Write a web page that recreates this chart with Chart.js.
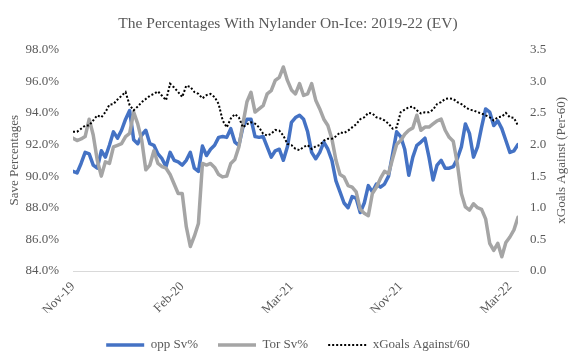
<!DOCTYPE html>
<html>
<head>
<meta charset="utf-8">
<script src="https://cdn.jsdelivr.net/npm/chart.js@4.4.1/dist/chart.umd.min.js"></script>
<style>
  html, body { margin: 0; padding: 0; background: #ffffff; }
  #wrap { width: 576px; height: 356px; position: relative; }
</style>
</head>
<body>
<div id="wrap"><canvas id="c"></canvas></div>
<script>
// ---- data (one value per game window) ----
const oppSv = [
  90.3, 90.2, 90.8, 91.5, 91.4, 90.7, 90.5, 91.6, 91.2, 91.95,
  92.8, 92.4, 92.9, 93.6, 94.15, 92.3, 92.05, 92.6, 92.9, 92.05,
  91.95, 91.4, 91.1, 90.6, 91.5, 91.0, 90.9, 90.7, 91.0, 91.5,
  90.5, 90.3, 91.9, 91.3, 91.7, 91.95, 92.45, 92.5, 92.45, 93.0,
  92.15, 91.95, 93.1, 93.6, 93.6, 92.5, 92.45, 92.5, 91.85, 91.2,
  91.6, 91.7, 91.0, 91.85, 93.4, 93.7, 93.85, 93.6, 92.8, 91.5,
  91.1, 91.5, 92.15, 91.7, 91.0, 89.7, 89.0, 88.3, 88.0, 88.7,
  88.6, 87.7, 88.3, 89.4, 89.0, 89.5, 89.3, 89.5, 90.0, 91.4,
  92.8, 92.5, 91.7, 90.05, 91.2, 91.95, 92.15, 92.4, 91.2, 89.75,
  90.7, 91.0, 90.5, 90.5, 90.6, 91.1, 91.85, 93.3, 92.7, 91.2,
  91.85, 93.1, 94.25, 94.05, 93.2, 93.5, 93.0, 92.25, 91.5, 91.6,
  92.0
];
const torSv = [
  92.4, 92.25, 92.35, 92.5, 93.6, 92.6, 91.0, 90.0, 90.9, 90.8,
  91.85, 91.95, 92.05, 92.5, 92.7, 94.05, 93.3, 92.25, 90.4, 90.7,
  91.6, 90.8, 90.6, 90.5, 90.1, 89.5, 88.9, 88.9, 86.8, 85.55,
  86.2, 87.0, 90.8, 90.7, 90.8, 90.55, 90.1, 89.95, 90.0, 90.8,
  91.05, 91.85, 93.3, 94.7, 95.3, 94.05, 94.25, 94.45, 95.2, 95.4,
  96.05, 96.25, 96.9, 96.05, 95.45, 95.2, 95.85, 95.1, 95.2, 95.85,
  94.8, 94.25, 93.6, 93.2, 92.35, 91.0, 90.1, 89.95, 89.4, 89.3,
  89.0, 87.9, 87.65, 87.5, 88.9, 89.3, 89.85, 90.3, 90.15, 91.1,
  92.0, 92.25, 92.65, 92.9, 93.05, 93.85, 92.9, 93.1, 93.1, 93.3,
  93.5, 93.6, 92.9, 92.45, 92.2, 90.8, 88.9, 88.05, 87.85, 88.25,
  88.0, 87.9, 87.3, 85.75, 85.3, 85.75, 84.9, 85.8, 86.15, 86.6,
  87.4
];
const xgAgainst = [
  2.2, 2.2, 2.25, 2.3, 2.3, 2.38, 2.46, 2.43, 2.51, 2.63,
  2.64, 2.71, 2.77, 2.83, 2.62, 2.54, 2.6, 2.67, 2.72, 2.77,
  2.8, 2.84, 2.77, 2.7, 2.96, 2.9, 2.83, 2.75, 2.93, 2.91,
  2.83, 2.8, 2.73, 2.78, 2.8, 2.75, 2.64, 2.38, 2.27, 2.41,
  2.48, 2.43, 2.27, 2.32, 2.35, 2.33, 2.27, 2.17, 2.14, 2.17,
  2.23, 2.22, 2.14, 2.01, 1.99, 1.93, 1.91, 1.96, 1.99, 1.93,
  1.97, 1.99, 2.06, 2.09, 2.09, 2.13, 2.19, 2.18, 2.22, 2.27,
  2.32, 2.4, 2.43, 2.5, 2.49, 2.43, 2.41, 2.38, 2.33, 2.25,
  2.27, 2.51, 2.55, 2.59, 2.6, 2.54, 2.49, 2.51, 2.51, 2.55,
  2.64, 2.67, 2.72, 2.73, 2.72, 2.67, 2.64, 2.59, 2.55, 2.54,
  2.51, 2.49, 2.46, 2.43, 2.38, 2.43, 2.44, 2.5, 2.43, 2.42,
  2.3
];
const tickLabels = ['Nov-19', 'Feb-20', 'Mar-21', 'Nov-21', 'Mar-22'];
const tickGames  = [0, 27, 54, 81, 108];
const seriesNames = ['opp Sv%', 'Tor Sv%', 'xGoals Against/60'];

const games = oppSv.map((_, i) => i);
const FONT = "'Liberation Serif', 'Times New Roman', serif";
const TXT = '#595959';

const rightTitle = {
  id: 'rightTitle',
  afterLayout(chart) {
    chart.legend.top += 5.5;
    chart.legend.bottom += 5.5;
  },
  afterDraw(chart) {
    const ctx = chart.ctx;
    ctx.save();
    ctx.translate(562, (chart.chartArea.top + chart.chartArea.bottom) / 2);
    ctx.rotate(-Math.PI / 2);
    ctx.font = "13px " + FONT;
    ctx.fillStyle = TXT;
    ctx.textAlign = 'center';
    ctx.textBaseline = 'middle';
    ctx.fillText('xGoals Against (Per-60)', 0, 0);
    ctx.restore();
  }
};

new Chart(document.getElementById('c'), {
  type: 'line',
  data: {
    labels: games,
    datasets: [
      { label: seriesNames[0], data: oppSv, yAxisID: 'y', borderColor: '#4472C4', backgroundColor: '#4472C4',
        borderWidth: 3.5, pointRadius: 0, tension: 0, borderJoinStyle: 'round', borderCapStyle: 'round', order: 2 },
      { label: seriesNames[1], data: torSv, yAxisID: 'y', borderColor: '#A5A5A5', backgroundColor: '#A5A5A5',
        borderWidth: 3.5, pointRadius: 0, tension: 0, borderJoinStyle: 'round', borderCapStyle: 'round', order: 1 },
      { label: seriesNames[2], data: xgAgainst, yAxisID: 'y2', borderColor: '#000000', backgroundColor: '#000000',
        borderWidth: 2, borderDash: [2, 2], pointRadius: 0, tension: 0, order: 0 }
    ]
  },
  options: {
    responsive: true,
    maintainAspectRatio: false,
    animation: false,
    devicePixelRatio: 1,
    layout: { padding: 0 },
    plugins: {
      title: {
        display: true,
        text: 'The Percentages With Nylander On-Ice: 2019-22 (EV)',
        color: TXT,
        font: { family: FONT, size: 15.5, weight: 'normal' },
        padding: { top: 15, bottom: 16 }
      },
      legend: {
        position: 'bottom',
        labels: {
          color: TXT,
          font: { family: FONT, size: 13 },
          usePointStyle: true,
          pointStyleWidth: 38,
          padding: 20,
          generateLabels: (chart) => chart.data.datasets.map((ds, i) => ({
            text: ds.label,
            fillStyle: ds.borderColor,
            strokeStyle: ds.borderColor,
            lineWidth: ds.borderWidth,
            lineDash: ds.borderDash || [],
            lineCap: 'butt',
            pointStyle: 'line',
            fontColor: TXT,
            hidden: false,
            datasetIndex: i
          }))
        }
      },
      tooltip: { enabled: false }
    },
    scales: {
      x: {
        type: 'linear',
        min: 0,
        max: games.length - 1,
        grid: { display: false, drawTicks: false },
        border: { display: true, color: '#D9D9D9', width: 1 },
        afterBuildTicks: (scale) => { scale.ticks = tickGames.map(v => ({ value: v })); },
        afterFit: (scale) => { scale.height = 42; },
        ticks: {
          autoSkip: false,
          maxRotation: 45,
          minRotation: 45,
          padding: 8,
          color: TXT,
          font: { family: FONT, size: 13 },
          callback: (v) => tickLabels[tickGames.indexOf(v)]
        }
      },
      y: {
        position: 'left',
        min: 84, max: 98,
        grid: { display: false, drawTicks: false },
        border: { display: false },
        afterFit: (scale) => { scale.width = 73; },
        ticks: {
          stepSize: 2,
          padding: 14,
          color: TXT,
          font: { family: FONT, size: 13 },
          callback: (v) => v.toFixed(1) + '%'
        },
        title: {
          display: true,
          text: 'Save Percentages',
          color: TXT,
          font: { family: FONT, size: 13 },
          padding: { top: 7, bottom: 0 }
        }
      },
      y2: {
        position: 'right',
        min: 0, max: 3.5,
        grid: { display: false, drawTicks: false },
        border: { display: false },
        afterFit: (scale) => { scale.width = 58; },
        ticks: {
          stepSize: 0.5,
          padding: 12,
          color: TXT,
          font: { family: FONT, size: 13 },
          callback: (v) => v.toFixed(1)
        }
      }
    }
  },
  plugins: [rightTitle]
});
</script>
</body>
</html>
